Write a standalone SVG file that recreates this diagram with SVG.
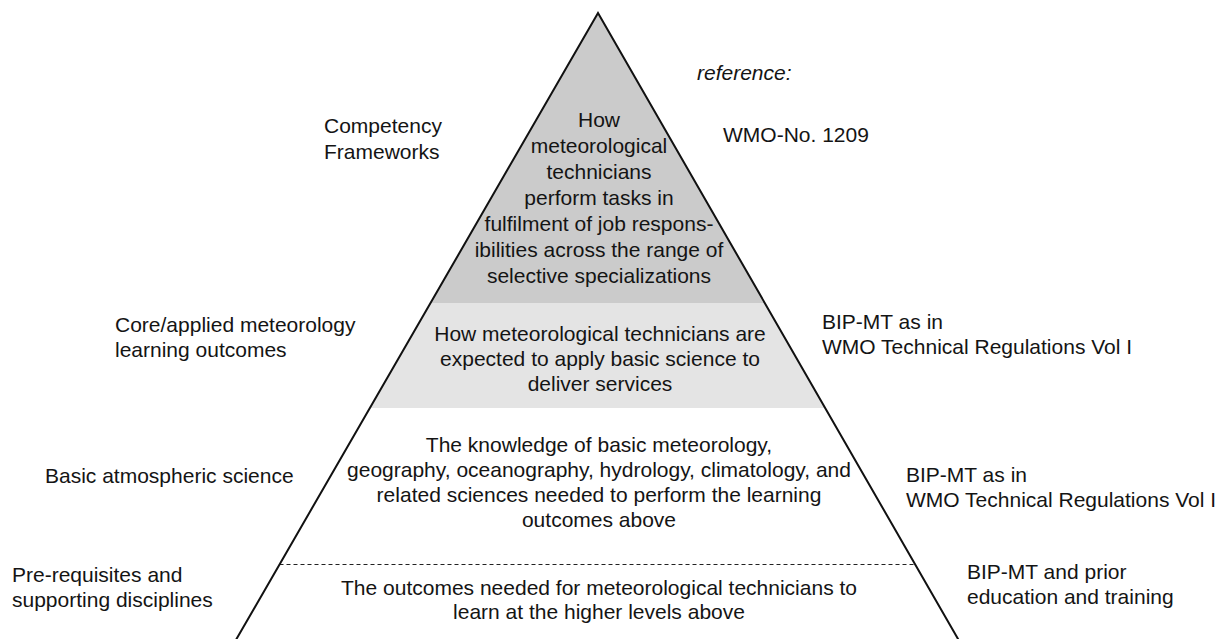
<svg xmlns="http://www.w3.org/2000/svg" width="1225" height="639" viewBox="0 0 1225 639">
<style>
text{font-family:"Liberation Sans",Arial,sans-serif;font-size:21px;fill:#141414}
.c{text-anchor:middle}
.it{font-style:italic}
.edge{fill:none;stroke:#111;stroke-width:2;stroke-linejoin:miter}
.dash{stroke:#222;stroke-width:1;stroke-dasharray:4 3}
</style>
<rect width="1225" height="639" fill="#fff"/>
<g id="tier-competency">
<polygon points="598,13 764.8,303 430.5,303" fill="#cbcbcb"/>
<text class="c" x="599" y="127">How</text>
<text class="c" x="599" y="153">meteorological</text>
<text class="c" x="599" y="179">technicians</text>
<text class="c" x="599" y="205">perform tasks in</text>
<text class="c" x="599" y="231">fulfilment of job respons-</text>
<text class="c" x="599" y="257">ibilities across the range of</text>
<text class="c" x="599" y="283">selective specializations</text>
</g>
<g id="tier-core">
<polygon points="430.5,303 764.8,303 825.2,408 369.9,408" fill="#e4e4e4"/>
<text class="c" x="600" y="341">How meteorological technicians are</text>
<text class="c" x="600" y="366">expected to apply basic science to</text>
<text class="c" x="600" y="391">deliver services</text>
</g>
<g id="tier-basic">
<text class="c" x="599" y="452">The knowledge of basic meteorology,</text>
<text class="c" x="599" y="477">geography, oceanography, hydrology, climatology, and</text>
<text class="c" x="599" y="502">related sciences needed to perform the learning</text>
<text class="c" x="599" y="527">outcomes above</text>
</g>
<g id="tier-prereq">
<text class="c" x="599" y="595">The outcomes needed for meteorological technicians to</text>
<text class="c" x="599" y="619">learn at the higher levels above</text>
</g>
<g id="connectors">
<line class="dash" x1="279.5" y1="564.5" x2="915" y2="564.5"/>
<polyline class="edge" points="233,645 598,13 961.5,645"/>
</g>
<g id="label-competency">
<text x="324" y="133">Competency</text>
<text x="324" y="159">Frameworks</text>
</g>
<g id="label-core">
<text x="115" y="332">Core/applied meteorology</text>
<text x="115" y="357">learning outcomes</text>
</g>
<g id="label-basic">
<text x="45" y="483">Basic atmospheric science</text>
</g>
<g id="label-prereq">
<text x="12" y="582">Pre-requisites and</text>
<text x="12" y="607">supporting disciplines</text>
</g>
<g id="ref-label">
<text class="it" x="697" y="80">reference:</text>
</g>
<g id="ref-wmo1209">
<text x="723" y="142">WMO-No. 1209</text>
</g>
<g id="ref-core">
<text x="822" y="329">BIP-MT as in</text>
<text x="822" y="354">WMO Technical Regulations Vol I</text>
</g>
<g id="ref-basic">
<text x="906" y="482">BIP-MT as in</text>
<text x="906" y="507">WMO Technical Regulations Vol I</text>
</g>
<g id="ref-prereq">
<text x="967" y="579">BIP-MT and prior</text>
<text x="967" y="604">education and training</text>
</g>
</svg>
